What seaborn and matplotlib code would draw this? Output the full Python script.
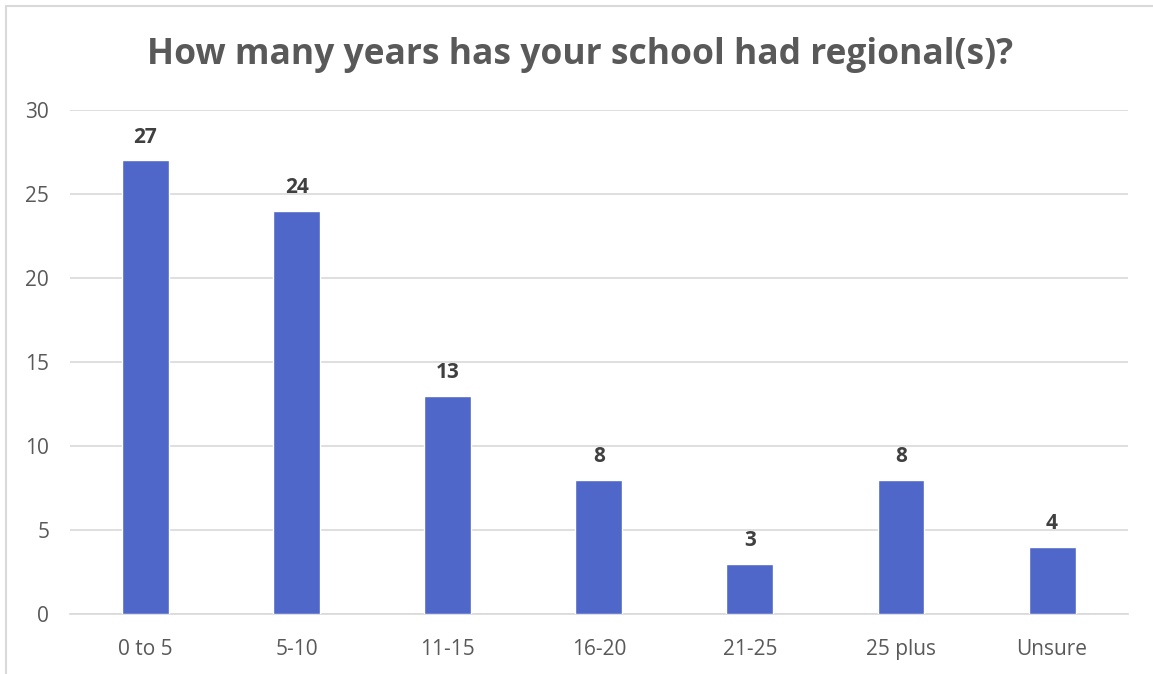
"""Bar chart: years schools have had regionals."""

import matplotlib.pyplot as plt
import pandas as pd
import seaborn as sns
from matplotlib.lines import Line2D

categories = ["0 to 5", "5-10", "11-15", "16-20", "21-25", "25 plus", "Unsure"]
counts = [27, 24, 13, 8, 3, 8, 4]

df = pd.DataFrame({"years": categories, "count": counts})

sns.set_theme(style="white")
plt.rcParams["font.family"] = ["Open Sans", "DejaVu Sans"]

fig = plt.figure(figsize=(11.53, 6.74), dpi=100)
ax = fig.add_axes([0.0607, 0.089, 0.9173, 0.748])

sns.barplot(data=df, x="years", y="count", color="#4F67C8", width=0.31,
            saturation=1, ax=ax, zorder=3)

ax.set_ylim(0, 30)
ax.set_yticks(range(0, 31, 5))
ax.yaxis.grid(True, color="#D9D9D9", linewidth=1.2, zorder=0)
ax.set_axisbelow(True)
for s in ["top", "right", "left"]:
    ax.spines[s].set_visible(False)
ax.spines["bottom"].set_color("#D9D9D9")
ax.spines["bottom"].set_linewidth(1.2)
ax.tick_params(axis="both", length=0, labelsize=15, labelcolor="#595959")
ax.tick_params(axis="y", pad=15)
ax.tick_params(axis="x", pad=18)
ax.set_xlabel("")
ax.set_ylabel("")

for c in ax.containers:
    ax.bar_label(c, padding=9, fontsize=15, fontweight="bold", color="#404040")

fig.suptitle("How many years has your school had regional(s)?", x=0.503,
             y=0.945, fontsize=25.5, fontweight="bold", color="#595959")

# chart frame (left and top edges visible in the screenshot)
fig.add_artist(Line2D([0.0052, 0.0052], [0, 0.991], color="#D9D9D9",
                      linewidth=1.5, transform=fig.transFigure))
fig.add_artist(Line2D([0.0052, 1], [0.991, 0.991], color="#D9D9D9",
                      linewidth=1.5, transform=fig.transFigure))

fig.savefig("out.png", dpi=100)
